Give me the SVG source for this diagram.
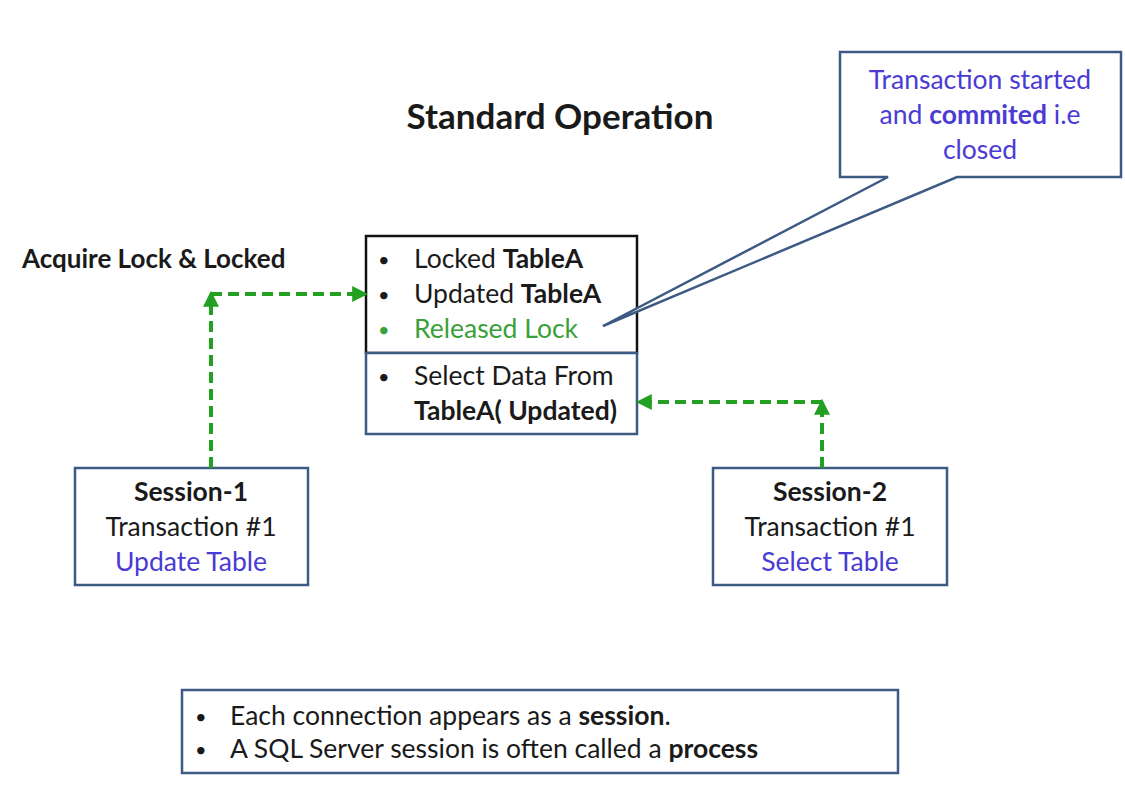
<svg xmlns="http://www.w3.org/2000/svg" width="1125" height="793" viewBox="0 0 1125 793">
<style>
text{font-family:Lato,"Open Sans","Liberation Sans",sans-serif;fill:#1a1a1a}
.b{font-weight:bold}
.t{font-size:26.5px}
.d{font-size:20px}
.blue{fill:#4a3bd4}
.green{fill:#3aa03a}
.box{fill:#fff;stroke:#3c5a84;stroke-width:2.5}
.conn{fill:none;stroke:#22a022;stroke-width:4;stroke-dasharray:11 6}
</style>
<defs>
<marker id="ah" viewBox="0 0 10 10" refX="8" refY="5" markerWidth="4" markerHeight="4" orient="auto" markerUnits="strokeWidth">
<path d="M0,0 L10,5 L0,10 z" fill="#22a022"/>
</marker>
</defs>
<rect width="1125" height="793" fill="#fff"/>
<text x="560" y="129" text-anchor="middle" class="b" font-size="35">Standard Operation</text>
<text id="acquire" x="22" y="268" class="b" font-size="26">Acquire Lock &amp; Locked</text>
<g id="lockbox">
<rect x="366" y="236" width="271" height="117" fill="#fff" stroke="#111" stroke-width="2.5"/>
<text x="378" y="267" class="d">•</text><text x="414" y="268" class="t">Locked <tspan class="b">TableA</tspan></text>
<text x="378" y="302" class="d">•</text><text x="414" y="303" class="t">Updated <tspan class="b">TableA</tspan></text>
<text x="378" y="337" class="d green">•</text><text x="414" y="338" class="t green">Released Lock</text>
</g>
<g id="selectbox">
<rect x="366" y="353" width="271" height="81" class="box"/>
<text x="378" y="384" class="d">•</text><text x="414" y="385" class="t">Select Data From</text>
<text x="414" y="420" class="t b">TableA( Updated)</text>
</g>
<g id="callout">
<path d="M840,52 H1121 V177 H957 L603,326 L888,177 H840 Z" class="box"/>
<text x="980" y="89" text-anchor="middle" class="t blue">Transaction started</text>
<text x="980" y="124" text-anchor="middle" class="t blue">and <tspan class="b blue">commited</tspan> i.e</text>
<text x="980" y="159" text-anchor="middle" class="t blue">closed</text>
</g>
<g id="session1">
<rect x="75" y="468" width="233" height="117" class="box"/>
<text x="191" y="501" text-anchor="middle" class="t b">Session-1</text>
<text x="191" y="536" text-anchor="middle" class="t">Transaction #1</text>
<text x="191" y="571" text-anchor="middle" class="t blue">Update Table</text>
</g>
<g id="session2">
<rect x="713" y="468" width="234" height="117" class="box"/>
<text x="830" y="501" text-anchor="middle" class="t b">Session-2</text>
<text x="830" y="536" text-anchor="middle" class="t">Transaction #1</text>
<text x="830" y="571" text-anchor="middle" class="t blue">Select Table</text>
</g>
<g id="connectors">
<path d="M211,468 V294" class="conn" marker-end="url(#ah)"/>
<path d="M211,294 H365" class="conn" marker-end="url(#ah)"/>
<path d="M822,468 V402" class="conn" marker-end="url(#ah)"/>
<path d="M822,402 H639" class="conn" marker-end="url(#ah)"/>
</g>
<g id="notes">
<rect x="182" y="690" width="716" height="83" class="box"/>
<text x="195" y="724" class="d">•</text><text x="230" y="725" class="t">Each connection appears as a <tspan class="b">session</tspan>.</text>
<text x="195" y="757" class="d">•</text><text x="230" y="758" class="t">A SQL Server session is often called a <tspan class="b">process</tspan></text>
</g>
</svg>
